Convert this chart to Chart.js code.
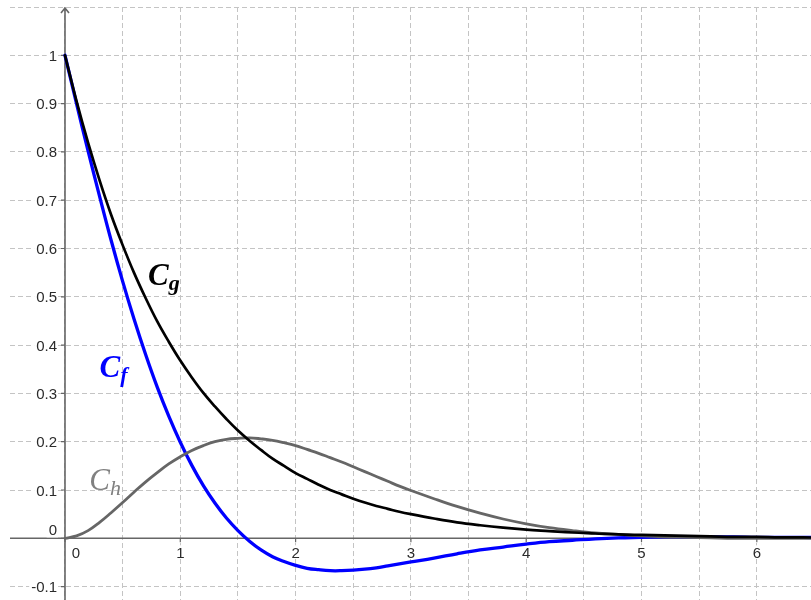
<!DOCTYPE html>
<html>
<head>
<meta charset="utf-8">
<script src="https://cdn.jsdelivr.net/npm/chart.js@4"></script>
<style>
  html, body { margin: 0; padding: 0; background: #fff; }
  canvas { display: block; }
</style>
</head>
<body>
<canvas id="chart" width="811" height="600"></canvas>
<script>
// sample positions along x
const xValues = [0, 0.1, 0.2, 0.3, 0.4, 0.5, 0.6, 0.7, 0.8, 0.9,
  1.0, 1.1, 1.2, 1.3, 1.4, 1.5, 1.6, 1.7, 1.8, 1.9,
  2.0, 2.1, 2.2, 2.3, 2.4, 2.5, 2.6, 2.7, 2.8, 2.9,
  3.0, 3.2, 3.4, 3.6, 3.8, 4.0, 4.2, 4.4, 4.6, 4.8,
  5.0, 5.2, 5.4, 5.6, 5.8, 6.0, 6.2, 6.4, 6.6];

const cgValues = [1.000, 0.905, 0.819, 0.741, 0.670, 0.607, 0.549, 0.497, 0.449, 0.407,
  0.368, 0.333, 0.301, 0.273, 0.247, 0.223, 0.202, 0.183, 0.165, 0.150,
  0.135, 0.123, 0.111, 0.100, 0.091, 0.082, 0.074, 0.067, 0.061, 0.055,
  0.050, 0.041, 0.033, 0.027, 0.022, 0.018, 0.015, 0.012, 0.010, 0.008,
  0.007, 0.006, 0.005, 0.004, 0.003, 0.003, 0.002, 0.002, 0.001];

const cfValues = [1.000, 0.900, 0.802, 0.708, 0.617, 0.532, 0.453, 0.380, 0.313, 0.253,
  0.199, 0.151, 0.109, 0.073, 0.042, 0.016, -0.006, -0.024, -0.038, -0.048,
  -0.056, -0.062, -0.065, -0.067, -0.067, -0.066, -0.064, -0.061, -0.057, -0.053,
  -0.049, -0.041, -0.032, -0.024, -0.018, -0.012, -0.007, -0.004, -0.001, 0.001,
  0.002, 0.003, 0.003, 0.003, 0.003, 0.002, 0.002, 0.002, 0.001];

const chValues = [0.000, 0.005, 0.016, 0.033, 0.053, 0.074, 0.096, 0.117, 0.136, 0.154,
  0.169, 0.182, 0.192, 0.200, 0.205, 0.207, 0.208, 0.206, 0.203, 0.198,
  0.192, 0.184, 0.176, 0.167, 0.158, 0.148, 0.138, 0.128, 0.118, 0.108,
  0.099, 0.082, 0.066, 0.052, 0.040, 0.030, 0.022, 0.016, 0.011, 0.008,
  0.005, 0.003, 0.002, 0.001, 0.000, 0.000, 0.000, 0.000, 0.000];

const xTickLabels = [0, 1, 2, 3, 4, 5, 6];
const yTickLabels = [-0.1, 0, 0.1, 0.2, 0.3, 0.4, 0.5, 0.6, 0.7, 0.8, 0.9, 1];
const xGridValues = [0, 0.5, 1, 1.5, 2, 2.5, 3, 3.5, 4, 4.5, 5, 5.5, 6];
const yGridValues = [-0.1, 0, 0.1, 0.2, 0.3, 0.4, 0.5, 0.6, 0.7, 0.8, 0.9, 1, 1.1];

function pts(ys) {
  return xValues.map((x, i) => ({ x: x, y: ys[i] }));
}

// curve names, placed in data units
const curveLabels = [
  { name: "C", sub: "g", x: 0.72, y: 0.525, color: "#000000", weight: "bold" },
  { name: "C", sub: "f", x: 0.30, y: 0.334, color: "#0000ff", weight: "bold" },
  { name: "C", sub: "h", x: 0.21, y: 0.100, color: "#808080", weight: "normal" }
];

const axesPlugin = {
  id: "geoAxes",
  beforeDatasetsDraw(chart) {
    const ctx = chart.ctx;
    const xs = chart.scales.x, ys = chart.scales.y;
    const area = chart.chartArea;
    const x0 = xs.getPixelForValue(0);
    const y0 = ys.getPixelForValue(0);
    ctx.save();
    ctx.strokeStyle = "#666666";
    ctx.lineWidth = 1.6;
    ctx.beginPath();
    ctx.moveTo(area.left, y0);
    ctx.lineTo(area.right, y0);
    ctx.moveTo(x0, area.bottom);
    ctx.lineTo(x0, area.top + 1);
    // arrow on the y axis
    ctx.moveTo(x0 - 4, area.top + 6);
    ctx.lineTo(x0, area.top + 1);
    ctx.lineTo(x0 + 4, area.top + 6);
    ctx.stroke();

    // ticks
    ctx.lineWidth = 1.2;
    ctx.beginPath();
    xTickLabels.forEach(v => {
      const p = xs.getPixelForValue(v);
      ctx.moveTo(p, y0);
      ctx.lineTo(p, y0 + 4);
    });
    yTickLabels.forEach(v => {
      const p = ys.getPixelForValue(v);
      ctx.moveTo(x0, p);
      ctx.lineTo(x0 - 4, p);
    });
    ctx.stroke();

    ctx.font = '15px "Liberation Sans", Arial, sans-serif';
    ctx.textBaseline = "alphabetic";
    ctx.textAlign = "center";
    xTickLabels.forEach(v => {
      let p = xs.getPixelForValue(v);
      if (v === 0) p += 11;
      const w = ctx.measureText(String(v)).width;
      ctx.fillStyle = "#ffffff";
      ctx.fillRect(p - w / 2 - 1, y0 + 7, w + 2, 13);
      ctx.fillStyle = "#2b2b2b";
      ctx.fillText(String(v), p, y0 + 20);
    });
    ctx.textAlign = "right";
    yTickLabels.forEach(v => {
      const p = ys.getPixelForValue(v);
      let base = p + 5.5;
      if (v === 0) base = p - 3;
      const w = ctx.measureText(String(v)).width;
      ctx.fillStyle = "#ffffff";
      ctx.fillRect(x0 - 8 - w - 2, base - 12, w + 3, 14);
      ctx.fillStyle = "#2b2b2b";
      ctx.fillText(String(v), x0 - 8, base);
    });
    ctx.restore();
  },
  afterDatasetsDraw(chart) {
    const ctx = chart.ctx;
    const xs = chart.scales.x, ys = chart.scales.y;
    ctx.save();
    ctx.textAlign = "left";
    ctx.textBaseline = "alphabetic";
    curveLabels.forEach(l => {
      const px = xs.getPixelForValue(l.x);
      const py = ys.getPixelForValue(l.y);
      ctx.fillStyle = l.color;
      ctx.font = "italic " + l.weight + ' 31px "Liberation Serif", serif';
      ctx.fillText(l.name, px, py);
      const w = ctx.measureText(l.name).width;
      ctx.font = "italic " + l.weight + ' 22px "Liberation Serif", serif';
      ctx.fillText(l.sub, px + w, py + 5);
    });
    ctx.restore();
  }
};

function gridScale(min, max, gridVals, horizontal) {
  return {
    type: "linear",
    min: min,
    max: max,
    afterBuildTicks: s => { s.ticks = gridVals.map(v => ({ value: v })); },
    afterFit: s => { if (horizontal) { s.height = 0; } else { s.width = 0; } },
    ticks: { display: false },
    grid: { color: "#c4c4c4", lineWidth: 1, drawTicks: false },
    border: { display: false, dash: [5, 3] }
  };
}

new Chart(document.getElementById("chart").getContext("2d"), {
  type: "scatter",
  data: {
    datasets: [
      { label: "Cg", data: pts(cgValues), borderColor: "#000000", borderWidth: 2.7 },
      { label: "Ch", data: pts(chValues), borderColor: "#666666", borderWidth: 2.8 },
      { label: "Cf", data: pts(cfValues), borderColor: "#0000ff", borderWidth: 3.3 }
    ]
  },
  options: {
    responsive: false,
    animation: false,
    events: [],
    showLine: true,
    layout: { padding: { left: 10, top: 7, right: 0, bottom: 0 } },
    elements: {
      point: { radius: 0 },
      line: { tension: 0.4, fill: false, borderCapStyle: "round", borderJoinStyle: "round" }
    },
    plugins: { legend: { display: false }, tooltip: { enabled: false } },
    scales: {
      x: gridScale(-0.477, 6.47, xGridValues, true),
      y: gridScale(-0.1277, 1.1, yGridValues, false)
    }
  },
  plugins: [axesPlugin]
});
</script>
</body>
</html>
